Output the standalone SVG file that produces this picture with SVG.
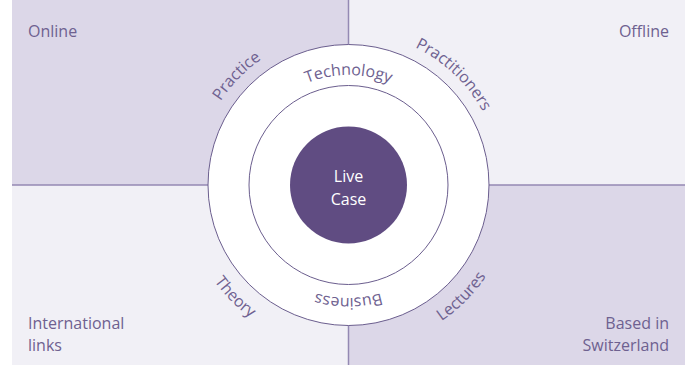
<svg xmlns="http://www.w3.org/2000/svg" width="689" height="365" viewBox="0 0 689 365">
<style>
.t{font-family:"Open Sans","Liberation Sans",sans-serif;font-size:16px;fill:#6e6190}
.dark{fill:#dcd7e8}
.light{fill:#f1f0f6}
.ln{stroke:#9489b3;stroke-width:1.5;fill:none}
.ring{fill:#ffffff;stroke:#6b5e8e;stroke-width:1}
</style>
<defs>
<path id="cwTop110" d="M348.5,295 A110,110 0 1 1 348.5,75 A110,110 0 1 1 348.5,295"/>
<path id="cwBot113" d="M348.5,72 A113,113 0 1 1 348.5,298 A113,113 0 1 1 348.5,72"/>
<path id="cwTop153" d="M348.5,338 A153,153 0 1 1 348.5,32 A153,153 0 1 1 348.5,338"/>
<path id="ccwBot165" d="M348.5,20 A165,165 0 1 0 348.5,350 A165,165 0 1 0 348.5,20"/>
</defs>
<g id="quadrants">
<rect class="dark" x="12" y="0" width="336.5" height="185"/>
<rect class="light" x="348.5" y="0" width="336.5" height="185"/>
<rect class="light" x="12" y="185" width="336.5" height="180"/>
<rect class="dark" x="348.5" y="185" width="336.5" height="180"/>
</g>
<g id="connectors">
<line class="ln" x1="12" y1="185" x2="685" y2="185"/>
<line class="ln" x1="348.5" y1="0" x2="348.5" y2="365"/>
</g>
<g id="label-online"><text class="t" x="28" y="37">Online</text></g>
<g id="label-offline"><text class="t" x="669" y="37" text-anchor="end">Offline</text></g>
<g id="label-international"><text class="t" x="28" y="329">International</text><text class="t" x="28" y="351">links</text></g>
<g id="label-switzerland"><text class="t" x="669" y="329" text-anchor="end">Based in</text><text class="t" x="669" y="351" text-anchor="end">Switzerland</text></g>
<g id="outer-ring"><circle class="ring" cx="348.5" cy="185" r="140.5"/></g>
<g id="inner-ring"><circle class="ring" cx="348.5" cy="185" r="99.5"/></g>
<g id="live-case">
<circle cx="348.5" cy="185" r="58.5" fill="#604c82"/>
<text class="t" x="348.5" y="182" text-anchor="middle" style="fill:#ffffff">Live</text>
<text class="t" x="348.5" y="205" text-anchor="middle" style="fill:#ffffff">Case</text>
</g>
<g id="ring-labels">
<text class="t"><textPath href="#cwTop110" startOffset="50%" text-anchor="middle">Technology</textPath></text>
<text class="t"><textPath href="#cwBot113" startOffset="50%" text-anchor="middle">Business</textPath></text>
<text class="t"><textPath href="#cwTop153" startOffset="37.3%" text-anchor="middle">Practice</textPath></text>
<text class="t"><textPath href="#cwTop153" startOffset="62.1%" text-anchor="middle">Practitioners</textPath></text>
<text class="t"><textPath href="#ccwBot165" startOffset="37.4%" text-anchor="middle">Theory</textPath></text>
<text class="t"><textPath href="#ccwBot165" startOffset="62.6%" text-anchor="middle">Lectures</textPath></text>
</g>
</svg>
